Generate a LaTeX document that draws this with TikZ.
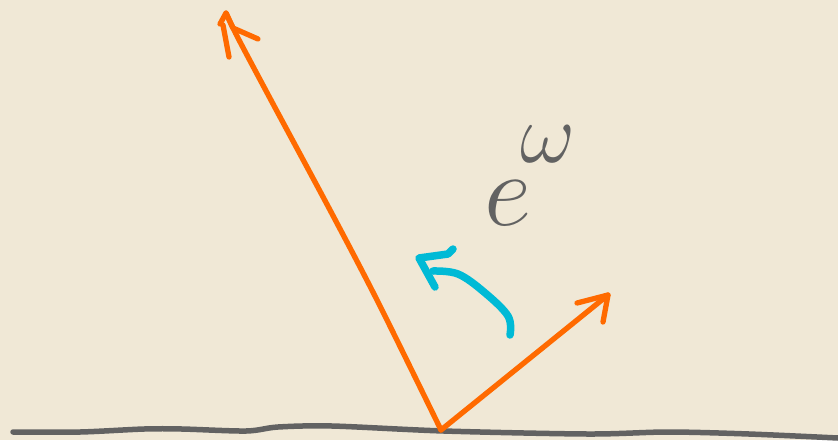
\documentclass[tikz,border=0pt]{standalone}
\usepackage{graphicx}
\begin{document}
\begin{tikzpicture}[x=1pt,y=-1pt,line cap=round,line join=round]
\definecolor{bg}{RGB}{240,232,214}
\definecolor{vecorange}{RGB}{255,106,0}
\definecolor{rotcyan}{RGB}{0,186,214}
\definecolor{inkgray}{RGB}{98,98,98}
\tikzset{
  ground/.style={draw=inkgray,line width=5.5pt},
  vec/.style={draw=vecorange,line width=5.3pt},
  rot/.style={draw=rotcyan,line width=7.5pt},
  label/.style={text=inkgray,inner sep=0pt,anchor=base west}
}
\fill[bg] (0,0) rectangle (838,440);
\useasboundingbox (0,0) rectangle (838,440);
% ground
\draw[ground] plot[smooth,tension=0.5] coordinates {(13,432) (80,432) (144,429) (182,429) (246,431) (278,427) (332,426) (444,431) (588,434) (668,432) (749,434) (838,438)};
\coordinate (o) at (441,430);
\coordinate (a) at (226,13);
\coordinate (b) at (608,295);
% long vector
\draw[vec] plot[smooth,tension=0.5] coordinates {(o) (378,302) (330,210) (272,102) (238,38) (a)};
\draw[vec] (223,25) -- (229,57);
\draw[vec] (220,24) -- (a) -- (233,28) -- (258,39);
% short vector
\draw[vec] (o) -- (b);
\draw[vec] (577,303) -- (b) -- (603,322);
% rotation arc
\draw[rot] plot[smooth,tension=0.6] coordinates {(510,335) (508,316) (484,292) (458,274) (433,271)};
\draw[rot] (435,287) -- (419,258) -- (448,254) -- (453,249);
% label
\node[label] (lbl) at (484,225) {\scalebox{5}{\huge$e$\kern-0.1em\raisebox{1.4ex}{\scalebox{0.82}{$\omega$}}}};
\end{tikzpicture}
\end{document}
